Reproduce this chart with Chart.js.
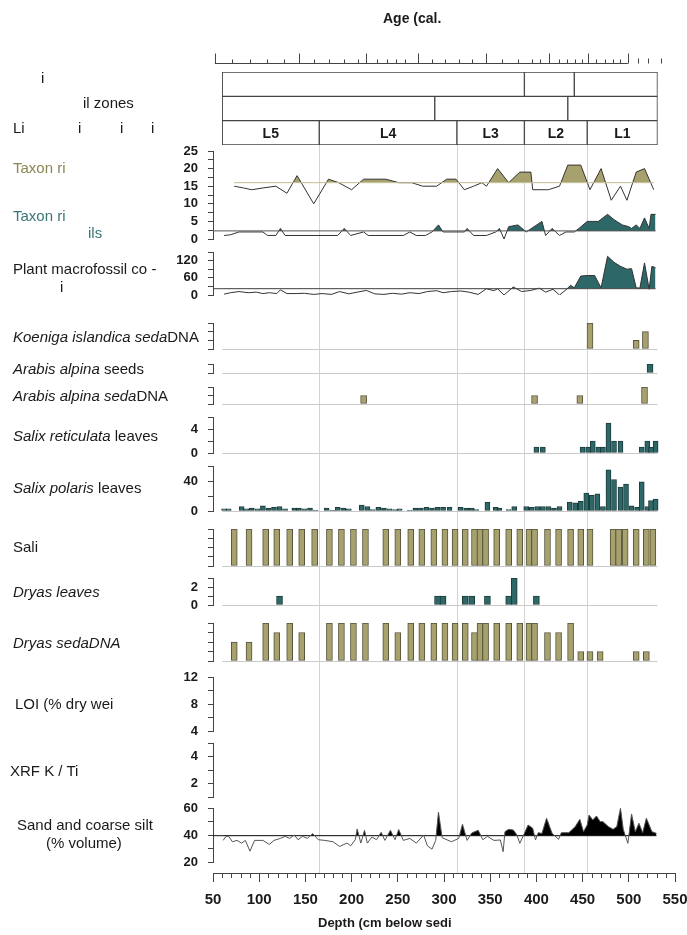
<!DOCTYPE html>
<html><head><meta charset="utf-8">
<script src="https://cdn.jsdelivr.net/npm/chart.js@4.4.1/dist/chart.umd.min.js"></script>
<style>
html,body{margin:0;padding:0;background:#fff;}
#wrap{position:relative;width:687px;height:935px;overflow:hidden;font-family:'Liberation Sans',Arial,sans-serif;color:#1a1a1a;}
#wrap canvas{position:absolute;left:0;}
.lbl{position:absolute;white-space:nowrap;font-size:15px;line-height:18px;transform:translateY(-50%);will-change:transform;}
.ttl{position:absolute;white-space:nowrap;font-size:14px;font-weight:bold;line-height:18px;transform:translateY(-50%);will-change:transform;}
</style></head><body>
<div id="wrap">
<div class="ttl" style="left:383px;top:18px">Age (cal.</div>
<div class="lbl" style="left:41px;top:78px">i</div>
<div class="lbl" style="left:83px;top:103px">il zones</div>
<div class="lbl" style="left:13px;top:128px">Li</div>
<div class="lbl" style="left:78px;top:128px">i</div>
<div class="lbl" style="left:120px;top:128px">i</div>
<div class="lbl" style="left:151px;top:128px">i</div>
<div class="lbl" style="left:13px;top:168px;color:#8b8652">Taxon ri</div>
<div class="lbl" style="left:13px;top:216px;color:#3b7676">Taxon ri</div>
<div class="lbl" style="left:88px;top:233px;color:#3b7676">ils</div>
<div class="lbl" style="left:13px;top:269px">Plant macrofossil co -</div>
<div class="lbl" style="left:60px;top:287px">i</div>
<div class="lbl" style="left:13px;top:337px"><i>Koeniga islandica seda</i>DNA</div>
<div class="lbl" style="left:13px;top:369px"><i>Arabis alpina</i> seeds</div>
<div class="lbl" style="left:13px;top:396px"><i>Arabis alpina seda</i>DNA</div>
<div class="lbl" style="left:13px;top:436px"><i>Salix reticulata</i> leaves</div>
<div class="lbl" style="left:13px;top:488px"><i>Salix polaris</i> leaves</div>
<div class="lbl" style="left:13px;top:547px">Sali</div>
<div class="lbl" style="left:13px;top:592px"><i>Dryas leaves</i></div>
<div class="lbl" style="left:13px;top:643px"><i>Dryas sedaDNA</i></div>
<div class="lbl" style="left:15px;top:704px">LOI (% dry wei</div>
<div class="lbl" style="left:10px;top:771px">XRF K / Ti</div>
<div class="lbl" style="left:17px;top:825px">Sand and coarse silt</div>
<div class="lbl" style="left:46px;top:843px">(% volume)</div>
<div class="ttl" style="left:318px;top:923px;font-size:13px">Depth (cm below sedi</div>
</div>
<script>
// ---------------- DATA ----------------
const depthTickLabels = [50,100,150,200,250,300,350,400,450,500,550];
const ageMajorTickDepths = [52,143,216,272,345,414,456,499];
const ageMinorTickDepths = [71,90,108,127,159,176,192,207,227,238,248,258,287,301,316,330,363,380,395,404,424,433,442,449,465,474,483,491];
const ageEndTickDepths = [510,521,535];

const zoneBoundaries = [165,314,387,455];
const zoneRow1 = [[60,387],[387,441],[441,531]];
const zoneRow2 = [[60,290],[290,434],[434,531]];
const zoneRow3 = [[60,165],[165,314],[314,387],[387,455],[455,531]];
const zoneNames = ['L5','L4','L3','L2','L1'];

const taxonDepths = [73,83,92,104,118,130,141,159,175,186,200,213,225,237,251,265,277,292,303,313,322,332,341,346,358,370,382,394,396,413,425,434,448,458,470,481,491,498,508,517,527];
const taxonValues = [15,14.5,14,14.5,15,13,18,10,17,16,14,17,17,17,16,16,15,15,17,17,14,15,16,15,20,16,19,19,14,14,15,21,21,14,20,11,15,11,19,20,14];
const taxonMean = 16;

const macroTaxonDepths = [62,69,78,104,109,118,123,128,185,192,199,213,218,256,263,270,280,287,294,299,322,325,332,346,356,360,365,370,380,389,406,410,417,425,432,441,446,455,467,477,484,493,500,503,508,512,517,522,524,529];
const macroTaxonValues = [1,1.2,2,2,1,1,3,1,1,3,1,2,1,1,2,1,1,2,4,2,2,3,1,1,2,3,0,3.5,4,2,5,1,3,1,2,2,3,5,5,7,5.5,4,3.5,3,4,3,6,3,7,7];
const macroTaxonMean = 2.3;

const plantDepths = [62,69,78,88,97,104,111,119,123,130,140,149,159,168,178,187,197,206,216,225,235,244,254,263,273,282,292,299,308,318,327,337,346,354,358,365,375,384,394,403,410,418,425,432,437,441,448,455,463,470,477,484,491,498,503,508,512,517,522,525,529];
const plantValues = [3,8,12,8,10,5,8,5,18,5,5,6,2,5,2,12,4,10,16,4,2,6,3,8,5,12,15,8,12,14,10,2,22,15,22,0,28,12,16,24,10,20,0,18,34,25,66,68,68,25,135,114,100,90,92,25,24,112,20,100,95];
const plantMean = 22;

const koenigaDepths = [458,508,518];
const koenigaValues = [3,1,2];

const arabisSeedDepths = [523];
const arabisSeedValues = [1];

const arabisDnaDepths = [213,398,447,517];
const arabisDnaValues = [1,1,1,2];

const salixRetDepths = [400,407,450,456,461,467,472,478,484,491,514,520,524,529];
const salixRetValues = [1,1,1,1,2,1,1,5,2,2,1,2,1,2];

const salixPolDepths = [62,67,81,86,92,98,104,110,116,122,128,138,143,149,155,161,173,179,185,191,197,211,217,223,229,235,241,247,252,263,269,275,281,287,293,299,306,318,324,330,335,347,356,360,370,376,389,395,401,407,413,419,425,436,442,448,454,460,466,472,478,484,491,497,503,509,514,520,524,529];
const salixPolValues = [3,3,6,3,4,3,7,4,5,6,3,4,4,3,4,1,4,1,5,4,3,8,6,2,5,4,3,2,3,1,4,4,5,4,5,5,5,5,4,4,2,12,5,4,2,6,6,5,6,6,6,4,6,12,11,13,24,21,23,6,55,42,32,36,7,5,39,6,14,16];

const saliDepths = [73,89,107,119,133,146,160,176,189,202,215,237,250,264,276,289,301,312,323,333,339,345,357,370,382,392,398,412,424,437,448,458,483,489,496,508,519,526];
const saliValues = [4,4,4,4,4,4,4,4,4,4,4,4,4,4,4,4,4,4,4,4,4,4,4,4,4,4,4,4,4,4,4,4,4,4,4,4,4,4];

const dryasLeafDepths = [122,293,299,323,330,347,370,376,400];
const dryasLeafValues = [1,1,1,1,1,1,1,3,1];

const dryasDnaDepths = [73,89,107,119,133,146,176,189,202,215,237,250,264,276,289,301,312,323,333,339,345,357,370,382,392,398,412,424,437,448,458,469,508,519];
const dryasDnaValues = [2,2,4,3,4,3,4,4,4,4,4,3,4,4,4,4,4,4,3,4,4,4,4,4,4,4,3,3,4,1,1,1,1,1];

const loiDepths = [];
const loiValues = [];
const xrfDepths = [];
const xrfValues = [];

const sandDepths = [61,64,67,71,76,81,85,90,95,104,111,116,123,128,133,138,142,147,152,158,164,171,180,187,195,199,204,206,210,214,217,222,227,232,236,242,247,251,256,263,270,278,282,287,291,294,298,308,316,320,325,330,337,342,347,354,361,364,366,370,375,379,382,387,391,396,399,402,406,411,417,424,427,435,442,447,451,455,457,461,465,469,472,478,483,487,491,494,499,503,507,511,515,519,525,530];
const sandValues = [36,39,39,35,36,34,36,28,36,36,33,36,37.5,39,37.5,40,36.5,39,37.5,41,36.5,36,35,31.5,34,32,36.5,44.5,34,43.5,34,38.5,36.5,42,36,43.5,36.5,44,36,37.5,34,40,32,29.5,36,57,38,35,37.5,48,36,41.5,43.5,36.5,39,36,36.3,27.6,42.5,44.2,43.7,40,33.8,41.2,47.4,45,36.3,41.7,41.2,52.4,41.2,36.8,41.7,41.7,46.2,51.6,42.5,47.4,54.8,51.1,54.1,49.9,49.9,46.2,44.2,46.2,59.8,44.2,33.8,55.6,42.5,48.7,41.7,52.4,42.5,41.2];
const sandMean = 39.5;

// ---------------- LAYOUT / STYLE ----------------
const W = 687, H = 935, AXIS_X = 213, RIGHT_PAD = 12, PAD = 10;
const X_MIN = 50, X_MAX = 550;
const OLIVE = '#a6a16d', OLIVE_BORDER = '#55533c';
const TEAL = '#2e6767', TEAL_BORDER = '#1c3b3b';
const FONT = "'Liberation Sans', Arial, sans-serif";
Chart.defaults.font.family = FONT;
const wrap = document.getElementById('wrap');

function pts(d, v) { return d.map((x, i) => ({x: x, y: v[i]})); }

function addCanvas(top, h) {
  const c = document.createElement('canvas');
  c.width = W; c.height = h;
  c.style.top = top + 'px'; c.style.width = W + 'px'; c.style.height = h + 'px';
  wrap.appendChild(c);
  return c;
}

function yScale(min, max, tickVals, labelVals) {
  return {
    type: 'linear', min: min, max: max, position: 'left',
    afterFit: s => { s.width = AXIS_X; s.paddingTop = 0; s.paddingBottom = 0; },
    afterBuildTicks: s => { s.ticks = tickVals.map(v => ({value: v})); },
    ticks: {
      autoSkip: false, padding: 10, color: '#1a1a1a',
      font: {family: FONT, size: 13, weight: 'bold'},
      callback: v => labelVals.includes(v) ? String(v) : ''
    },
    grid: {drawOnChartArea: false, drawTicks: true, tickLength: 5, color: '#444', tickWidth: 1},
    border: {display: true, color: '#444', width: 1}
  };
}

const baselinePlugin = {
  id: 'baseline',
  beforeDatasetsDraw(chart) {
    const o = chart.options.plugins.baseline;
    if (!o || !o.show) return;
    const x = chart.scales.x, y = chart.scales.y, ctx = chart.ctx;
    const yy = Math.round(y.getPixelForValue(y.min)) + 0.5;
    ctx.save();
    ctx.strokeStyle = '#c9c9c9'; ctx.lineWidth = 1;
    ctx.beginPath();
    ctx.moveTo(x.getPixelForValue(zoneRow3[0][0]), yy);
    ctx.lineTo(x.getPixelForValue(zoneRow3[zoneRow3.length - 1][1]), yy);
    ctx.stroke();
    ctx.restore();
  }
};

function panel(top, bottom, datasets, y, baseline) {
  const c = addCanvas(top - PAD, bottom - top + 2 * PAD);
  return new Chart(c, {
    type: 'line',
    data: {datasets: datasets},
    options: {
      responsive: false, animation: false, devicePixelRatio: 1,
      layout: {autoPadding: false, padding: {top: PAD, bottom: PAD, left: 0, right: RIGHT_PAD}},
      plugins: {legend: {display: false}, tooltip: {enabled: false}, baseline: {show: !!baseline}},
      scales: {x: {type: 'linear', min: X_MIN, max: X_MAX, display: false, offset: false, grid: {offset: false}}, y: y}
    },
    plugins: [baselinePlugin]
  });
}

function barDs(d, v, color, border, thick) {
  return {type: 'bar', data: pts(d, v), backgroundColor: color, borderColor: border,
    borderWidth: 1, barThickness: thick, borderSkipped: false, grouped: false};
}
function areaDs(d, v, mean, fillColor, lineColor) {
  return {type: 'line', data: pts(d, v), borderColor: lineColor || '#333', borderWidth: 1,
    pointRadius: 0, tension: 0, fill: {target: {value: mean}, above: fillColor, below: 'rgba(0,0,0,0)'}};
}
function refDs(from, to, mean, color) {
  return {type: 'line', data: [{x: from, y: mean}, {x: to, y: mean}], borderColor: color,
    borderWidth: 1, pointRadius: 0, fill: false};
}

// ---------------- FRAME (zone lines + depth axis) ----------------
const depthMinorTicks = [];
for (let v = X_MIN + 10; v < X_MAX; v += 10) if (v % 50 !== 0) depthMinorTicks.push(v);

const framePlugin = {
  id: 'frame',
  beforeDraw(chart) {
    const x = chart.scales.x, ctx = chart.ctx, a = chart.chartArea;
    ctx.save();
    ctx.strokeStyle = '#d3d3d3'; ctx.lineWidth = 1;
    zoneBoundaries.forEach(z => {
      const px = Math.round(x.getPixelForValue(z)) + 0.5;
      ctx.beginPath(); ctx.moveTo(px, a.top); ctx.lineTo(px, a.bottom); ctx.stroke();
    });
    ctx.restore();
  },
  afterDraw(chart) {
    const x = chart.scales.x, ctx = chart.ctx, a = chart.chartArea;
    ctx.save();
    ctx.strokeStyle = '#444'; ctx.lineWidth = 1;
    depthMinorTicks.forEach(v => {
      const px = Math.round(x.getPixelForValue(v)) + 0.5;
      ctx.beginPath(); ctx.moveTo(px, a.bottom); ctx.lineTo(px, a.bottom + 5); ctx.stroke();
    });
    ctx.restore();
  }
};

new Chart(addCanvas(0, H), {
  type: 'scatter',
  data: {datasets: []},
  options: {
    responsive: false, animation: false, devicePixelRatio: 1,
    layout: {autoPadding: false, padding: {top: 145, left: AXIS_X, right: RIGHT_PAD, bottom: 0}},
    plugins: {legend: {display: false}, tooltip: {enabled: false}},
    scales: {
      x: {
        type: 'linear', min: X_MIN, max: X_MAX, position: 'bottom',
        afterFit: s => { s.height = 62; s.paddingLeft = 0; s.paddingRight = 0; },
        afterBuildTicks: s => { s.ticks = depthTickLabels.map(v => ({value: v})); },
        ticks: {autoSkip: false, maxRotation: 0, padding: 9, color: '#1a1a1a',
          font: {family: FONT, size: 15, weight: 'bold'}},
        grid: {drawOnChartArea: false, tickLength: 9, color: '#444'},
        border: {display: true, color: '#444', width: 1}
      },
      y: {display: false, min: 0, max: 1}
    }
  },
  plugins: [framePlugin]
});

// ---------------- ZONES + AGE AXIS ----------------
const zoneData = [];
zoneRow1.forEach(r => zoneData.push({x: r, y: 'r1'}));
zoneRow2.forEach(r => zoneData.push({x: r, y: 'r2'}));
zoneRow3.forEach((r, i) => zoneData.push({x: r, y: 'r3', name: zoneNames[i]}));

const zonePlugin = {
  id: 'zones',
  afterDatasetsDraw(chart) {
    const ctx = chart.ctx, meta = chart.getDatasetMeta(0), ds = chart.data.datasets[0];
    ctx.save();
    ctx.fillStyle = '#1a1a1a';
    ctx.font = 'bold 14px ' + FONT;
    ctx.textAlign = 'center'; ctx.textBaseline = 'middle';
    meta.data.forEach((el, i) => {
      const item = ds.data[i];
      if (item.name) ctx.fillText(item.name, (el.x + el.base) / 2, el.y + 1);
    });
    // age axis
    const x = chart.scales.x, y0 = Math.round(chart.chartArea.top - 9) + 0.5;
    ctx.strokeStyle = '#444'; ctx.lineWidth = 1;
    ctx.beginPath();
    ctx.moveTo(x.getPixelForValue(ageMajorTickDepths[0]), y0);
    ctx.lineTo(x.getPixelForValue(ageMajorTickDepths[ageMajorTickDepths.length - 1]), y0);
    ctx.stroke();
    const tick = (v, len) => {
      const px = Math.round(x.getPixelForValue(v)) + 0.5;
      ctx.beginPath(); ctx.moveTo(px, y0); ctx.lineTo(px, y0 - len); ctx.stroke();
    };
    ageMajorTickDepths.forEach(v => tick(v, 10));
    ageMinorTickDepths.forEach(v => tick(v, 4));
    ageEndTickDepths.forEach(v => tick(v, 5));
    ctx.restore();
  }
};

new Chart(addCanvas(0, 150), {
  type: 'bar',
  data: {labels: ['r1', 'r2', 'r3'], datasets: [{
    data: zoneData, backgroundColor: '#ffffff', borderColor: '#444', borderWidth: 1,
    borderSkipped: false, barPercentage: 1, categoryPercentage: 1, grouped: false
  }]},
  options: {
    indexAxis: 'y', responsive: false, animation: false, devicePixelRatio: 1,
    layout: {autoPadding: false, padding: {top: 72, left: AXIS_X, right: RIGHT_PAD, bottom: 5}},
    plugins: {legend: {display: false}, tooltip: {enabled: false}},
    scales: {
      x: {type: 'linear', min: X_MIN, max: X_MAX, display: false, offset: false},
      y: {type: 'category', display: false, offset: true}
    }
  },
  plugins: [zonePlugin]
});

// ---------------- PANELS ----------------
panel(151, 239, [
  refDs(taxonDepths[0], taxonDepths[taxonDepths.length - 1], taxonMean, '#c2bf98'),
  areaDs(taxonDepths, taxonValues, taxonMean, OLIVE),
  refDs(X_MIN, macroTaxonDepths[macroTaxonDepths.length - 1], macroTaxonMean, '#555'),
  areaDs(macroTaxonDepths, macroTaxonValues, macroTaxonMean, TEAL)
], yScale(0, 25, [0,2.5,5,7.5,10,12.5,15,17.5,20,22.5,25], [0,5,10,15,20,25]));

panel(252, 295, [
  refDs(X_MIN, plantDepths[plantDepths.length - 1], plantMean, '#444'),
  areaDs(plantDepths, plantValues, plantMean, TEAL)
], yScale(0, 150, [0,30,60,90,120,150], [0,60,120]));

panel(323, 349, [barDs(koenigaDepths, koenigaValues, OLIVE, OLIVE_BORDER, 6)], yScale(0, 3, [0,1,2,3], []), true);
panel(364, 373, [barDs(arabisSeedDepths, arabisSeedValues, TEAL, TEAL_BORDER, 6)], yScale(0, 1, [0,1], []), true);
panel(387, 404, [barDs(arabisDnaDepths, arabisDnaValues, OLIVE, OLIVE_BORDER, 6)], yScale(0, 2, [0,1,2], []), true);
panel(417, 453, [barDs(salixRetDepths, salixRetValues, TEAL, TEAL_BORDER, 5)], yScale(0, 6, [0,2,4,6], [0,4]), true);
panel(466, 511, [barDs(salixPolDepths, salixPolValues, TEAL, TEAL_BORDER, 5)], yScale(0, 60, [0,20,40,60], [0,40]), true);
panel(529, 566, [barDs(saliDepths, saliValues, OLIVE, OLIVE_BORDER, 6)], yScale(0, 4, [0,1,2,3,4], []), true);
panel(578, 605, [barDs(dryasLeafDepths, dryasLeafValues, TEAL, TEAL_BORDER, 6)], yScale(0, 3, [0,1,2,3], [0,2]), true);
panel(623, 661, [barDs(dryasDnaDepths, dryasDnaValues, OLIVE, OLIVE_BORDER, 6)], yScale(0, 4, [0,1,2,3,4], []), true);
panel(677, 731, [{type: 'line', data: pts(loiDepths, loiValues), borderColor: '#333', borderWidth: 1, pointRadius: 0}],
  yScale(4, 12, [4,6,8,10,12], [4,8,12]));
panel(743, 797, [{type: 'line', data: pts(xrfDepths, xrfValues), borderColor: '#333', borderWidth: 1, pointRadius: 0}],
  yScale(1, 5, [1,2,3,4,5], [2,4]));
panel(808, 862, [
  areaDs(sandDepths, sandValues, sandMean, '#000000', '#555'),
  refDs(X_MIN, sandDepths[sandDepths.length - 1], sandMean, '#111')
], yScale(20, 60, [20,30,40,50,60], [20,40,60]));
</script>
</body></html>
